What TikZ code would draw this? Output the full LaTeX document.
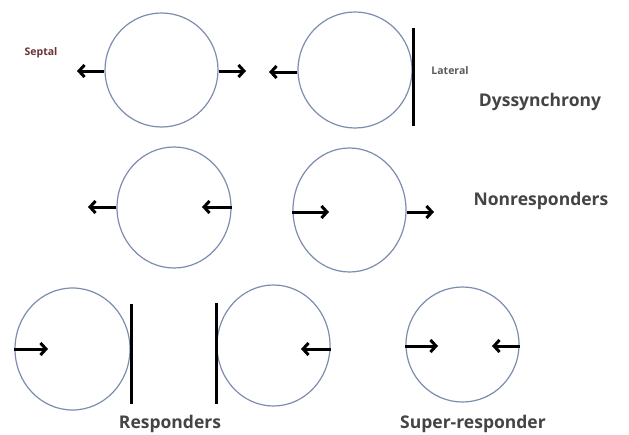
\documentclass[tikz,border=0pt]{standalone}
\usepackage{fontspec}
\setmainfont{Open Sans}
\usetikzlibrary{arrows.meta,shapes.geometric}
\definecolor{ringcol}{RGB}{125,140,175}
\definecolor{labcol}{RGB}{68,68,68}
\definecolor{septcol}{RGB}{105,50,55}
\definecolor{latcol}{RGB}{90,90,90}
\tikzset{
  ring/.style={draw=ringcol, line width=1.2pt, ellipse, inner sep=0pt},
  motion/.style={line width=3pt, -{Straight Barb[length=5.5pt,width=12pt]}},
  wall/.style={line width=3pt},
  biglabel/.style={text=labcol, font=\bfseries\fontsize{17.5}{20}\selectfont, inner sep=0pt},
  smalllabel/.style={font=\bfseries\fontsize{10.5}{12}\selectfont, inner sep=0pt}
}
\begin{document}
\begin{tikzpicture}[x=1pt,y=-1pt]
\useasboundingbox[fill=white] (0,0) rectangle (629,434);
% Row 1: dyssynchrony
\node[ring, minimum width=113pt, minimum height=114pt] (c1) at (161.5,70) {};
\node[ring, minimum width=114pt, minimum height=116pt] (c2) at (355,70) {};
\coordinate (t1) at (77,71);
\coordinate (t2) at (246,71);
\coordinate (t3) at (269,72);
\draw[motion] (c1.west |- t1) -- (t1);
\draw[motion] (c1.east |- t2) -- (t2);
\draw[motion] (c2.west |- t3) -- (t3);
\coordinate (w1a) at (413,28);
\coordinate (w1b) at (413,126);
\draw[wall] (w1a) -- (w1b);
\node[smalllabel, text=septcol] (septal) at (41,53) {Septal};
\node[smalllabel, text=latcol] (lateral) at (450,71) {Lateral};
\node[biglabel] (dys) at (540,102) {Dyssynchrony};
% Row 2: nonresponders
\node[ring, minimum width=114pt, minimum height=121pt] (c3) at (174,207.5) {};
\node[ring, minimum width=113pt, minimum height=124pt] (c4) at (349.5,210) {};
\coordinate (t4) at (88,207);
\coordinate (t5) at (202,207);
\coordinate (t6) at (329,212);
\coordinate (t7) at (434,212);
\draw[motion] (c3.west |- t4) -- (t4);
\draw[motion] (c3.east |- t5) -- (t5);
\draw[motion] (c4.west |- t6) -- (t6);
\draw[motion] (c4.east |- t7) -- (t7);
\node[biglabel] (non) at (541,201) {Nonresponders};
% Row 3: responders
\node[ring, minimum width=115pt, minimum height=122pt] (c5) at (72.5,349) {};
\node[ring, minimum width=113pt, minimum height=121pt] (c6) at (273.5,345.5) {};
\coordinate (w2a) at (131,304);
\coordinate (w2b) at (131,404);
\coordinate (w3a) at (216,303);
\coordinate (w3b) at (216,404);
\draw[wall] (w2a) -- (w2b);
\draw[wall] (w3a) -- (w3b);
\coordinate (t8) at (48,349);
\coordinate (t9) at (301,349);
\draw[motion] (c5.west |- t8) -- (t8);
\draw[motion] (c6.east |- t9) -- (t9);
\node[biglabel] (resp) at (170,424) {Responders};
% Super-responder
\node[ring, minimum width=113pt, minimum height=115pt] (c7) at (462.5,344.5) {};
\coordinate (t10) at (438,346);
\coordinate (t11) at (492,346);
\draw[motion] (c7.west |- t10) -- (t10);
\draw[motion] (c7.east |- t11) -- (t11);
\node[biglabel] (super) at (473,424) {Super-responder};
\end{tikzpicture}
\end{document}
